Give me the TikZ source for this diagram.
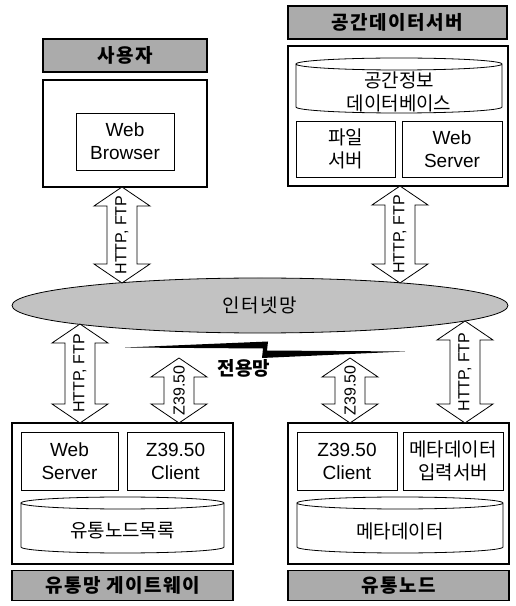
\documentclass[tikz,border=0pt]{standalone}
\usepackage{fontspec}
\setmainfont{Liberation Sans}
\newfontfamily\kr{Noto Sans CJK KR}
\newfontfamily\krl[LetterSpace=8]{Noto Sans CJK KR}
\usetikzlibrary{calc,shapes.geometric}
\definecolor{lblgray}{HTML}{ABABAB}
\definecolor{netgray}{HTML}{C2C2C2}
\newcommand\dblarrow[4]{%
  \draw[arrowbody] let \p1=(#1), \p2=(#2) in
    (\x1,\y1) -- (\x1+28pt,\y1-19pt) -- (\x1+15pt,\y1-19pt) -- (\x1+15pt,\y2+19pt)
    -- (\x1+28pt,\y2+19pt) -- (\x1,\y2) -- (\x1-28pt,\y2+19pt) -- (\x1-15pt,\y2+19pt)
    -- (\x1-15pt,\y1-19pt) -- (\x1-28pt,\y1-19pt) -- cycle;
  \node[arrowtext] (#3) at ($(#1)!0.5!(#2)$) {#4};
}
\newcommand\cylbody[5]{% xl xr ytop ybot rx
  \draw[cylline] (#1,#3-6) -- (#1,#4+6)
    arc[start angle=180,end angle=360,x radius=#5,y radius=6]
    -- (#2,#3-6)
    arc[start angle=0,end angle=360,x radius=#5,y radius=6];
}
\begin{document}
\begin{tikzpicture}[x=1pt,y=1pt,
  lbl/.style={draw, line width=1.8pt, fill=lblgray, inner sep=0pt, outer sep=0pt,
    font=\krl\bfseries\fontsize{19}{22}\selectfont},
  outerbox/.style={draw, line width=1.6pt, inner sep=0pt, outer sep=0pt},
  innerbox/.style={draw, line width=0.8pt, inner sep=0pt, outer sep=0pt, align=center,
    font=\fontsize{19}{23}\selectfont},
  krbox/.style={innerbox, font=\kr\fontsize{19}{23}\selectfont},
  krtext/.style={inner sep=0pt, align=center, font=\kr\fontsize{19}{23}\selectfont},
  cylline/.style={line width=0.8pt},
  arrowbody/.style={draw, fill=white, line width=0.8pt, line join=miter},
  arrowtext/.style={rotate=90, inner sep=0pt, font=\fontsize{16}{16}\selectfont},
]
\useasboundingbox (0,0) rectangle (515,606);

% ---- user (top left)
\node[lbl, minimum width=164, minimum height=33] (userlbl) at (125,550.5) {사용자};
\node[outerbox, minimum width=164, minimum height=107] (user) at (125,472.5) {};
\node[innerbox, minimum width=98, minimum height=57] (browser) at (125,464.5) {Web\\Browser};

% ---- spatial data server (top right)
\node[lbl, minimum width=219, minimum height=33] (srvlbl) at (397.5,583.5) {공간데이터서버};
\node[outerbox, minimum width=220, minimum height=140] (srv) at (398,490) {};
\cylbody{296}{502}{548}{493}{103}
\node[krtext] (gisdb) at (399,514.5) {공간정보\\데이터베이스};
\node[krbox, minimum width=99, minimum height=56] (filesrv) at (345.5,457) {파일\\서버};
\node[innerbox, minimum width=100, minimum height=56] (websrv1) at (452,457) {Web\\Server};

% ---- internet
\node[ellipse, draw, line width=0.8pt, fill=netgray, minimum width=496, minimum height=55,
  inner sep=0pt, font=\krl\fontsize{19}{22}\selectfont] (net) at (260,300.5) {인터넷망};

% ---- leased line
\fill (125,258.5) -- (268,264.5) -- (267,255.5) -- (405,254.5) -- (262,248) -- (263,257.5) -- cycle;
\node[font=\kr\bfseries\fontsize{19}{22}\selectfont, inner sep=0pt] (lease) at (244,238) {전용망};

% ---- gateway (bottom left)
\node[outerbox, minimum width=221, minimum height=141] (gw) at (122.5,112.5) {};
\node[innerbox, minimum width=97, minimum height=58] (websrv2) at (69.5,145) {Web\\Server};
\node[innerbox, minimum width=97, minimum height=58] (zcl1) at (175.5,145) {Z39.50\\Client};
\cylbody{21}{224}{109}{53}{101.5}
\node[krtext] (gwdb) at (122.5,75) {유통노드목록};
\node[lbl, minimum width=221, minimum height=30] (gwlbl) at (122.5,20.5) {유통망 게이트웨이};

% ---- distribution node (bottom right)
\node[outerbox, minimum width=221, minimum height=141] (dn) at (398.5,112.5) {};
\node[innerbox, minimum width=100, minimum height=58] (zcl2) at (347,145) {Z39.50\\Client};
\node[krbox, minimum width=100, minimum height=58] (metasrv) at (453,145) {메타데이터\\입력서버};
\cylbody{297}{503}{109}{53}{103}
\node[krtext] (metadb) at (400,75) {메타데이터};
\node[lbl, minimum width=221, minimum height=30] (dnlbl) at (398.5,20.5) {유통노드};

% ---- connectors
\coordinate (a1t) at (user.south -| 122,0);
\coordinate (a1b) at (122,323);
\coordinate (a2t) at (srv.south -| 400,0);
\coordinate (a2b) at (400,323);
\coordinate (a3t) at (80,282);
\coordinate (a3b) at (gw.north -| 80,0);
\coordinate (a4t) at (179,248);
\coordinate (a4b) at (gw.north -| 179,0);
\coordinate (a5t) at (350,248);
\coordinate (a5b) at (dn.north -| 350,0);
\coordinate (a6t) at (465,285);
\coordinate (a6b) at (dn.north -| 465,0);

\dblarrow{a1t}{a1b}{t1}{HTTP, FTP}
\dblarrow{a2t}{a2b}{t2}{HTTP, FTP}
\dblarrow{a3t}{a3b}{t3}{HTTP, FTP}
\dblarrow{a4t}{a4b}{t4}{Z39.50}
\dblarrow{a5t}{a5b}{t5}{Z39.50}
\dblarrow{a6t}{a6b}{t6}{HTTP, FTP}
\end{tikzpicture}
\end{document}
